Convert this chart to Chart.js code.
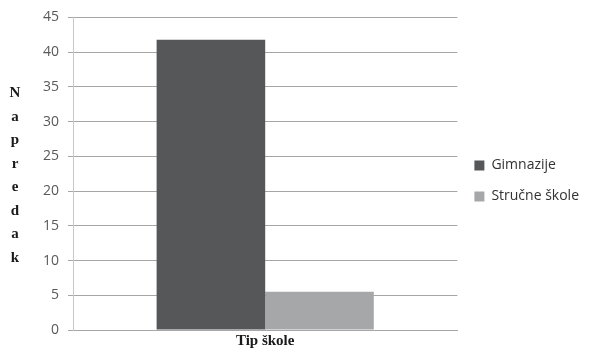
<!DOCTYPE html>
<html lang="hr">
<head>
<meta charset="UTF-8">
<title>Napredak po tipu škole</title>
<script src="https://cdn.jsdelivr.net/npm/chart.js"></script>
<style>
    html, body { margin: 0; padding: 0; background: #fff; }
    #wrap { position: relative; width: 589px; height: 352px; }
</style>
</head>
<body>
<div id="wrap"><canvas id="chart" width="589" height="352"></canvas></div>
<script>
// data
const categories = ['Tip škole'];
const seriesNames = ['Gimnazije', 'Stručne škole'];
const seriesValues = [[41.8], [5.5]];
const seriesColors = ['#555759', '#a6a7a9'];
const yTitleLetters = ['N', 'a', 'p', 'r', 'e', 'd', 'a', 'k'];

// stacked vertical axis title, one letter per line
const stackedTitle = {
    id: 'stackedTitle',
    afterDraw(chart) {
        const ctx = chart.ctx;
        const a = chart.chartArea;
        const mid = (a.top + a.bottom) / 2 + 2;
        const step = 23.5;
        const start = mid - step * (yTitleLetters.length - 1) / 2;
        ctx.save();
        ctx.font = 'bold 15px "Liberation Serif", serif';
        ctx.fillStyle = '#1a1a1a';
        ctx.textAlign = 'center';
        ctx.textBaseline = 'middle';
        yTitleLetters.forEach((ch, i) => ctx.fillText(ch, 15, start + i * step));
        ctx.restore();
    }
};

new Chart(document.getElementById('chart'), {
    type: 'bar',
    data: {
        labels: categories,
        datasets: seriesNames.map((name, i) => ({
            label: name,
            data: seriesValues[i],
            backgroundColor: seriesColors[i],
            borderWidth: 0,
            barPercentage: 1.0,
            categoryPercentage: 0.565
        }))
    },
    options: {
        responsive: false,
        animation: false,
        layout: { padding: { left: 34, top: 10, right: 0, bottom: 0 } },
        plugins: {
            tooltip: { enabled: false },
            legend: {
                position: 'right',
                align: 'center',
                labels: {
                    boxWidth: 10,
                    boxHeight: 10,
                    padding: 17,
                    color: '#333',
                    font: { family: '"Open Sans", sans-serif', size: 14 }
                }
            }
        },
        scales: {
            x: {
                grid: { display: false, drawTicks: false },
                border: { color: '#a6a6a6', width: 1 },
                ticks: {
                    color: '#1a1a1a',
                    padding: 2,
                    font: { family: '"Liberation Serif", serif', size: 15, weight: 'bold' }
                }
            },
            y: {
                min: 0,
                max: 45,
                ticks: {
                    stepSize: 5,
                    color: '#595959',
                    padding: 9,
                    font: { family: '"Open Sans", sans-serif', size: 14 }
                },
                grid: { color: '#a6a6a6', tickLength: 5, tickColor: '#a6a6a6' },
                border: { color: '#c8c8c8', width: 1 }
            }
        }
    },
    plugins: [stackedTitle]
});
</script>
</body>
</html>
